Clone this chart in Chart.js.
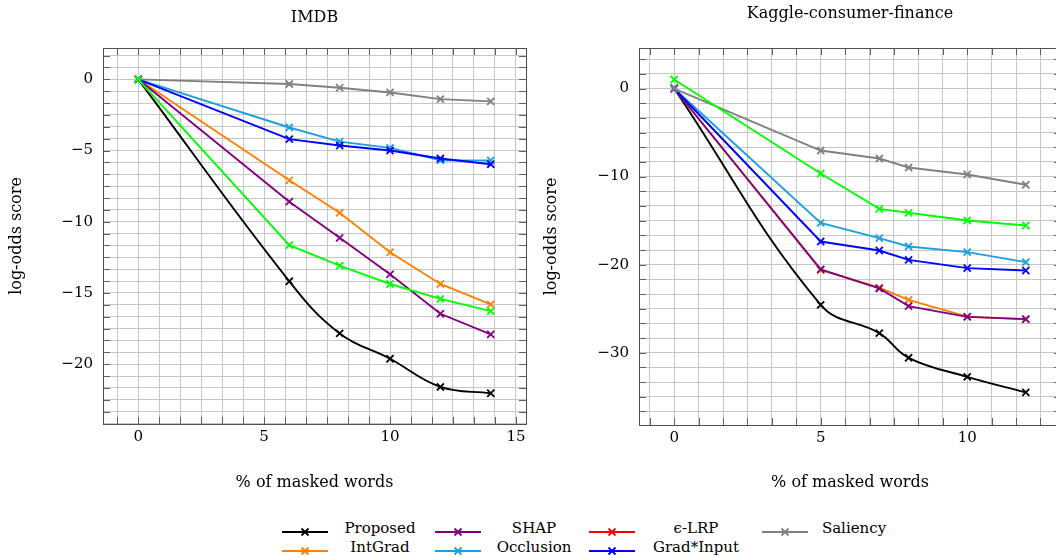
<!DOCTYPE html>
<html>
<head>
<meta charset="utf-8">
<script src="https://cdn.jsdelivr.net/npm/chart.js@4.4.1/dist/chart.umd.min.js"></script>
<style>
body{margin:0;width:1056px;height:557px;overflow:hidden;background:#fff;position:relative;font-family:"DejaVu Serif",serif;}
canvas{position:absolute;top:0;}
#c1{left:0;}
#c2{left:535px;}
.lg{position:absolute;font-size:15px;color:#000;white-space:nowrap;}
</style>
</head>
<body>
<canvas id="c1" width="535" height="500"></canvas>
<canvas id="c2" width="536" height="500"></canvas>
<div id="legend"></div>
<script>
// ---- data ----
const imdbX = [0, 6, 8, 10, 12, 14];
const imdbProposed = [0, -14.18, -17.84, -19.62, -21.6, -22.04];
const imdbIntGrad = [0, -7.09, -9.37, -12.14, -14.37, -15.8];
const imdbShap = [0, -8.59, -11.13, -13.69, -16.46, -17.91];
const imdbLrp = [0, -11.64, -13.08, -14.37, -15.42, -16.27];
const imdbOcclusion = [0, -3.38, -4.37, -4.81, -5.68, -5.7];
const imdbGradInput = [0, -4.2, -4.65, -5.0, -5.56, -5.96];
const imdbSaliency = [0, -0.33, -0.59, -0.92, -1.39, -1.55];

const kaggleX = [0, 5, 7, 8, 10, 12];
const kaggleProposed = [0, -24.56, -27.77, -30.57, -32.73, -34.5];
const kaggleIntGrad = [0, -20.6, -22.6, -23.99, -25.9, -26.2];
const kaggleShap = [0, -20.54, -22.7, -24.71, -25.92, -26.18];
const kaggleLrp = [1.02, -9.65, -13.66, -14.11, -14.98, -15.55];
const kaggleOcclusion = [0, -15.25, -16.99, -17.93, -18.58, -19.71];
const kaggleGradInput = [0, -17.37, -18.39, -19.45, -20.39, -20.66];
const kaggleSaliency = [0, -7.04, -7.95, -8.97, -9.76, -10.93];

const imdbXTicks = [0, 5, 10, 15];
const imdbYTicks = [0, -5, -10, -15, -20];
const kaggleXTicks = [0, 5, 10];
const kaggleYTicks = [0, -10, -20, -30];

const legendNames = ["Proposed", "SHAP", "\u03f5-LRP", "Saliency", "IntGrad", "Occlusion", "Grad*Input"];
const legendColors = ["#000000", "#800080", "#ff0000", "#808080", "#ff8000", "#1aa0e0", "#0000ff"];

const FONT = "DejaVu Serif";
const gridColor = "#c6c6c6";

function tickList(min, max, step){
    let out = [];
    for(let k = Math.ceil(min/step - 1e-9); k*step <= max + 1e-9; k++){
        out.push(Math.round(k*step*1e9)/1e9);
    }
    return out;
}
function labelFor(v, majors){
    for(const m of majors){
        if(Math.abs(m - v) < 1e-6) return m < 0 ? "\u2212" + (-m) : String(m);
    }
    return "";
}

function makeSets(p, ig, sh, lrp, occ, gi, sal, xs){
    const pts = arr => arr.map((y, i) => ({x: xs[i], y: y}));
    const ds = (label, data, color, tension) => ({
        label: label, data: pts(data), borderColor: color, backgroundColor: color,
        borderWidth: 1.9, pointStyle: 'crossRot', pointRadius: 5, pointBorderWidth: 1.8,
        pointBorderColor: color, tension: tension || 0, fill: false
    });
    // first dataset is drawn on top
    return [
        ds("\u03f5-LRP", lrp, "#00ff00"),
        ds("Saliency", sal, "#808080"),
        ds("Grad*Input", gi, "#0000ff"),
        ds("Occlusion", occ, "#1aa0e0"),
        ds("SHAP", sh, "#800080"),
        ds("IntGrad", ig, "#ff8000"),
        ds("Proposed", p, "#000000", 0.4)
    ];
}

const framePlugin = {
    id: 'frame',
    afterDraw(chart, args, opts){
        const c = chart.ctx, a = chart.chartArea;
        c.save();
        c.strokeStyle = "#606060";
        c.lineWidth = 1;
        const xs = chart.scales.x, ys = chart.scales.y;
        const L = 7;
        xs.ticks.forEach(t => {
            const px = Math.round(xs.getPixelForValue(t.value)) + 0.5;
            c.beginPath();
            c.moveTo(px, a.bottom); c.lineTo(px, a.bottom - L);
            c.moveTo(px, a.top); c.lineTo(px, a.top + L);
            c.stroke();
        });
        ys.ticks.forEach(t => {
            const py = Math.round(ys.getPixelForValue(t.value)) + 0.5;
            c.beginPath();
            c.moveTo(a.left, py); c.lineTo(a.left + L, py);
            c.moveTo(a.right, py); c.lineTo(a.right - L, py);
            c.stroke();
        });
        c.strokeStyle = "#505050";
        c.strokeRect(Math.round(a.left) + 0.5, Math.round(a.top) + 0.5, Math.round(a.right - a.left), Math.round(a.bottom - a.top));
        // title, anchored like a node sitting on the plot
        c.font = "16px '" + FONT + "'";
        c.fillStyle = "#000";
        c.textAlign = "center";
        c.textBaseline = "alphabetic";
        const m = c.measureText(opts.text);
        c.fillText(opts.text, (a.left + a.right)/2, 22 - m.actualBoundingBoxDescent);
        c.restore();
    }
};

function makeChart(id, sets, xr, yr, xStep, yStep, xMajors, yMajors, title, yWidth, xHeight, padRight){
    return new Chart(document.getElementById(id), {
        type: 'line',
        data: {datasets: sets},
        plugins: [framePlugin],
        options: {
            responsive: false,
            animation: false,
            events: [],
            layout: {padding: {top: 48, right: padRight, left: 0, bottom: 0}},
            plugins: {legend: {display: false}, tooltip: {enabled: false}, frame: {text: title}},
            scales: {
                x: {
                    type: 'linear', min: xr[0], max: xr[1],
                    afterBuildTicks: s => { s.ticks = tickList(xr[0], xr[1], xStep).map(v => ({value: v})); },
                    afterFit: s => { s.height = xHeight; },
                    ticks: {autoSkip: false, maxRotation: 0, padding: 4, color: "#000",
                        font: {family: FONT, size: 15}, callback: v => labelFor(v, xMajors)},
                    grid: {color: gridColor, lineWidth: 1, drawTicks: false},
                    border: {display: false},
                    title: {display: true, text: "% of masked words", color: "#000",
                        font: {family: FONT, size: 16}, padding: {top: 0, bottom: 8}}
                },
                y: {
                    type: 'linear', min: yr[0], max: yr[1],
                    afterBuildTicks: s => { s.ticks = tickList(yr[0], yr[1], yStep).map(v => ({value: v})); },
                    afterFit: s => { s.width = yWidth; },
                    ticks: {autoSkip: false, padding: 10, color: "#000",
                        font: {family: FONT, size: 15}, callback: v => labelFor(v, yMajors)},
                    grid: {color: gridColor, lineWidth: 1, drawTicks: false},
                    border: {display: false},
                    title: {display: true, text: "log-odds score", color: "#000",
                        font: {family: FONT, size: 16}, padding: {top: 7, bottom: 0}}
                }
            }
        }
    });
}

makeChart("c1",
    makeSets(imdbProposed, imdbIntGrad, imdbShap, imdbLrp, imdbOcclusion, imdbGradInput, imdbSaliency, imdbX),
    [-1.4, 15.4], [-24.2, 2.2], 5/6, 5/6, imdbXTicks, imdbYTicks, "IMDB", 103, 76, 9);

makeChart("c2",
    makeSets(kaggleProposed, kaggleIntGrad, kaggleShap, kaggleLrp, kaggleOcclusion, kaggleGradInput, kaggleSaliency, kaggleX),
    [-1.2, 13.2], [-38.2, 4.6], 5/6, 10/6, kaggleXTicks, kaggleYTicks, "Kaggle-consumer-finance", 104, 75, 10);

// ---- legend (4 columns, filled row by row) ----
const colLine = [282, 435, 589, 762];
const colText = [380, 534, 696, 854];
const rowY = [528, 547];
const legend = document.getElementById("legend");
legendNames.forEach((name, i) => {
    const col = i % 4, row = Math.floor(i / 4);
    const col2 = legendColors[i];
    const sw = document.createElement("div");
    sw.className = "lg";
    sw.style.left = colLine[col] + "px";
    sw.style.top = (rowY[row] - 5) + "px";
    sw.innerHTML = `<svg width="46" height="10"><line x1="0" y1="5" x2="46" y2="5" stroke="${col2}" stroke-width="2"/>` +
        `<path d="M19.5 1.5 L26.5 8.5 M26.5 1.5 L19.5 8.5" stroke="${col2}" stroke-width="1.8"/></svg>`;
    legend.appendChild(sw);
    const tx = document.createElement("div");
    tx.className = "lg";
    tx.textContent = name;
    tx.style.left = colText[col] + "px";
    tx.style.top = (rowY[row] - 9) + "px";
    tx.style.transform = "translateX(-50%)";
    tx.style.lineHeight = "18px";
    legend.appendChild(tx);
});
</script>
</body>
</html>
